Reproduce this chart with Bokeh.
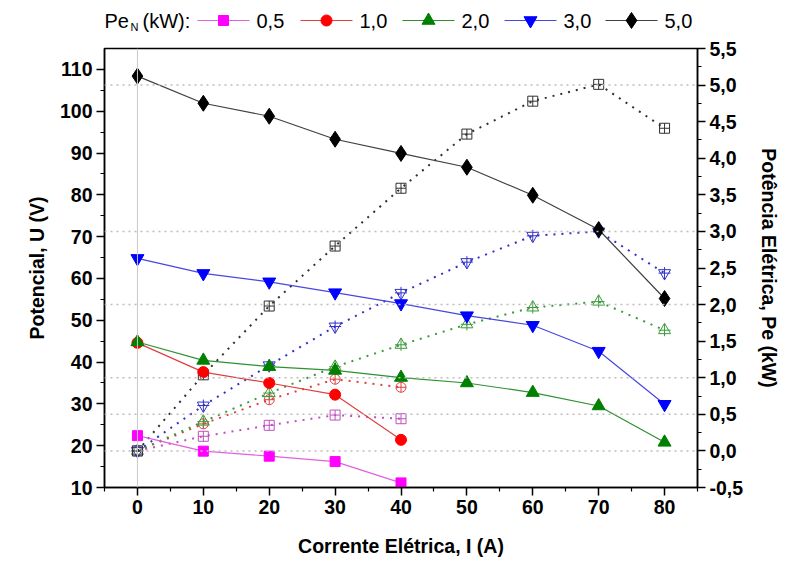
from bokeh.plotting import figure
from bokeh.layouts import column
from bokeh.models import Range1d, LinearAxis, FixedTicker, Span
from bokeh.embed import file_html
from bokeh.resources import INLINE
from bokeh.core.properties import value

current = [0, 10, 20, 30, 40, 50, 60, 70, 80]
current_short = [0, 10, 20, 30, 40]

u_05 = [22.4, 18.7, 17.5, 16.2, 11.1]
p_05 = [0.0, 0.20, 0.35, 0.49, 0.44]
u_10 = [44.6, 37.6, 35.0, 32.2, 21.4]
p_10 = [0.0, 0.37, 0.70, 0.98, 0.87]
u_20 = [44.8, 40.4, 38.9, 38.0, 36.3, 35.0, 32.7, 29.5, 20.8]
p_20 = [0.0, 0.40, 0.79, 1.15, 1.45, 1.73, 1.96, 2.04, 1.65]
u_30 = [64.8, 61.2, 59.2, 56.6, 54.0, 51.1, 48.8, 42.6, 29.9]
p_30 = [0.0, 0.62, 1.17, 1.70, 2.16, 2.58, 2.94, 3.00, 2.43]
u_50 = [108.4, 101.9, 98.8, 93.3, 89.9, 86.6, 79.9, 71.7, 55.2]
p_50 = [0.0, 1.04, 1.98, 2.80, 3.59, 4.33, 4.78, 5.01, 4.41]

ref_power = [0.0, 0.5, 1.0, 2.0, 3.0, 5.0]
legend_labels = ["0,5", "1,0", "2,0", "3,0", "5,0"]

x_ticks = [0, 10, 20, 30, 40, 50, 60, 70, 80]
x_minor = [-5, 5, 15, 25, 35, 45, 55, 65, 75, 85]
yl_ticks = [10, 20, 30, 40, 50, 60, 70, 80, 90, 100, 110]
yl_minor = [15, 25, 35, 45, 55, 65, 75, 85, 95, 105]
yr_ticks = [-0.5, 0.0, 0.5, 1.0, 1.5, 2.0, 2.5, 3.0, 3.5, 4.0, 4.5, 5.0, 5.5]
yr_minor = [-0.25, 0.25, 0.75, 1.25, 1.75, 2.25, 2.75, 3.25, 3.75, 4.25, 4.75, 5.25]

FONT = "Liberation Sans"
B_LEFT = 104
F_W = 593
B_RIGHT = 90
LEG_H = 36

# series styles: (line colour, marker colour, marker, size)
styles = [
    ("#e060e0", "#ff00ff", "square", 10),
    ("#e04040", "#ff0000", "circle", 11),
    ("#309030", "#008000", "triangle", 13),
    ("#4848e0", "#0000ff", "inverted_triangle", 13),
    ("#404040", "#000000", "diamond", 16),
]

p = figure(frame_width=F_W, frame_height=439,
           x_range=Range1d(-5, 85), y_range=Range1d(10, 115.0),
           output_backend="svg", toolbar_location=None,
           min_border_left=B_LEFT, min_border_right=B_RIGHT,
           min_border_top=12, min_border_bottom=78)
p.extra_y_ranges = {"pw": Range1d(-0.5, 5.5)}
p.xgrid.visible = False
p.ygrid.visible = False
p.outline_line_color = "black"
p.outline_line_width = 1.5
p.background_fill_color = "white"

# reference lines
p.add_layout(Span(location=0, dimension="height", line_color="#c8c8c8", line_width=1))
for v in ref_power:
    p.add_layout(Span(location=v, dimension="width", y_range_name="pw",
                      line_color="#bdbdbd", line_width=1.5, line_dash="2 4"))

# power (right axis) dotted
def power_series(xs, ys, color, marker):
    p.line(xs, ys, y_range_name="pw", line_color=color, line_width=2, line_dash="2 6")
    if marker in ("triangle", "inverted_triangle"):
        p.scatter(xs, ys, y_range_name="pw", marker=marker, size=12,
                  fill_color=None, line_color=color, line_width=1)
        p.scatter(xs, ys, y_range_name="pw", marker="cross", size=12,
                  line_color=color, line_width=1)
    else:
        p.scatter(xs, ys, y_range_name="pw", marker=marker, size=10,
                  fill_color="white", fill_alpha=0.0, line_color=color, line_width=1)

power_series(current_short, p_05, "#c050c0", "square_cross")
power_series(current_short, p_10, "#e04040", "circle_cross")
power_series(current, p_20, "#3a9a3a", "triangle")
power_series(current, p_30, "#3030c8", "inverted_triangle")
power_series(current, p_50, "#303030", "square_cross")

# voltage (left axis) solid
for xs, ys, st in zip([current_short, current_short, current, current, current],
                      [u_05, u_10, u_20, u_30, u_50], styles):
    lc, mc, mk, sz = st
    p.line(xs, ys, line_color=lc, line_width=1.2)
    p.scatter(xs, ys, marker=mk, size=sz, fill_color=mc, line_color=mc)

# axes
ax = p.xaxis[0]
ax.ticker = FixedTicker(ticks=x_ticks, minor_ticks=x_minor)
ax.axis_label = "Corrente Elétrica, I (A)"

ay = p.yaxis[0]
ay.ticker = FixedTicker(ticks=yl_ticks, minor_ticks=yl_minor)
ay.axis_label = "Potencial, U (V)"

ar = LinearAxis(y_range_name="pw", axis_label="Potência Elétrica, Pe (kW)")
ar.ticker = FixedTicker(ticks=yr_ticks, minor_ticks=yr_minor)
ar.major_label_overrides = {t: ("%.1f" % t).replace(".", ",") for t in yr_ticks}
p.add_layout(ar, "right")

for a in (ax, ay, ar):
    a.axis_line_color = "black"
    a.axis_line_width = 1.5
    a.major_tick_line_color = "black"
    a.minor_tick_line_color = "black"
    a.major_tick_line_width = 1.5
    a.minor_tick_line_width = 1.2
    a.major_tick_in = 0
    a.major_tick_out = 8
    a.minor_tick_in = 0
    a.minor_tick_out = 4
    a.major_label_text_font = FONT
    a.major_label_text_font_style = "bold"
    a.major_label_text_font_size = "19.5px"
    a.major_label_text_color = "black"
    a.axis_label_text_font = FONT
    a.axis_label_text_font_style = "bold"
    a.axis_label_text_font_size = "19.5px"
    a.axis_label_text_color = "black"
    a.major_label_standoff = 4

ax.axis_label_standoff = 18
ay.axis_label_standoff = 9
ar.axis_label_standoff = 12

# legend row as its own small figure; its frame lines up with the main frame,
# and its x range is set to page pixels
lg = figure(frame_width=F_W, frame_height=LEG_H,
            x_range=Range1d(B_LEFT, B_LEFT + F_W), y_range=Range1d(0, LEG_H),
            x_axis_location=None, y_axis_location=None,
            output_backend="svg", toolbar_location=None,
            min_border_left=B_LEFT, min_border_right=B_RIGHT,
            min_border_top=0, min_border_bottom=0)
lg.xgrid.visible = False
lg.ygrid.visible = False
lg.outline_line_color = None

ymid = LEG_H - 20
lg.text([104], [ymid], text=["Pe"], text_font=value(FONT), text_font_size="20px",
        text_baseline="middle", text_align="left", text_color="black")
lg.text([130], [ymid - 6], text=["N"], text_font=value(FONT), text_font_size="11px",
        text_baseline="middle", text_align="left", text_color="black")
lg.text([142], [ymid], text=["(kW):"], text_font=value(FONT), text_font_size="20px",
        text_baseline="middle", text_align="left", text_color="black")

item_x0 = [197, 300, 402, 504, 605]
glyph_w = 52
for x0, lab, st in zip(item_x0, legend_labels, styles):
    lc, mc, mk, sz = st
    lg.line([x0, x0 + glyph_w], [ymid, ymid], line_color=lc, line_width=1.2)
    lg.scatter([x0 + glyph_w / 2], [ymid], marker=mk, size=sz, fill_color=mc, line_color=mc)
    lg.text([x0 + glyph_w + 7], [ymid], text=[lab], text_font=value(FONT),
            text_font_size="20px", text_baseline="middle", text_align="left",
            text_color="black")

layout = column(lg, p, spacing=0)
open("out.html", "w").write(file_html(layout, INLINE))
